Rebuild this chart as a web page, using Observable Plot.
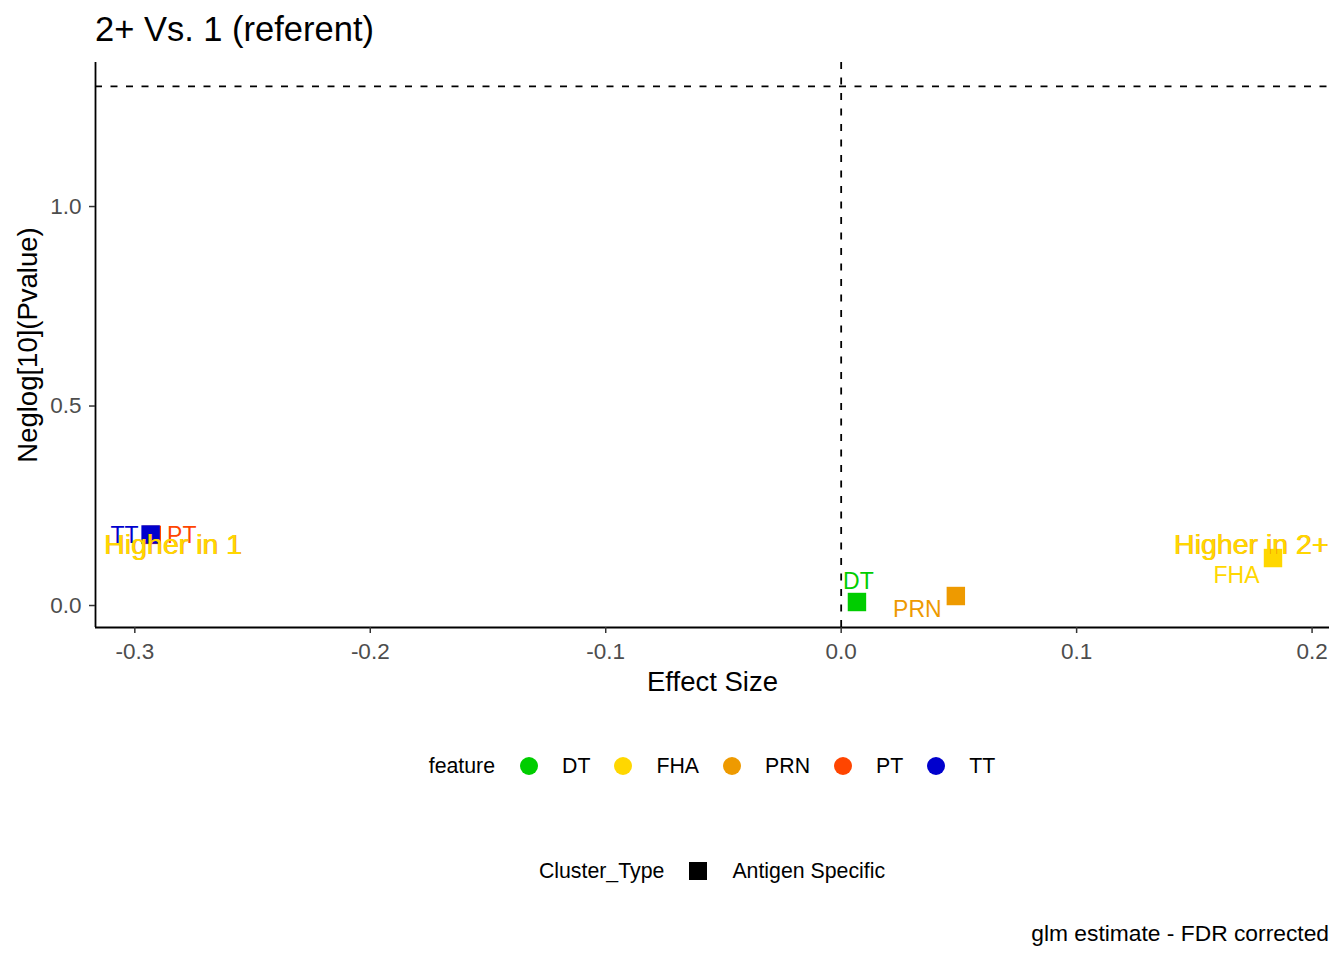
<!DOCTYPE html>
<html>
<head>
<meta charset="utf-8">
<script src="https://cdn.jsdelivr.net/npm/d3@7"></script>
<script src="https://cdn.jsdelivr.net/npm/@observablehq/plot@0.6"></script>
<style>
  html, body { margin: 0; padding: 0; background: #fff; }
  body { font-family: "Liberation Sans", Arial, sans-serif; width: 1344px; height: 960px; overflow: hidden; }
  #title { box-sizing: border-box; height: 50px; padding: 9px 0 0 95px; font-size: 34.5px; line-height: 41px; color: #000; white-space: nowrap; }
  .legend { box-sizing: border-box; display: flex; align-items: center; justify-content: center; padding: 0 15px 0 95px; font-size: 21.3px; color: #000; white-space: nowrap; }
  #legend1 { height: 112px; }
  #legend2 { height: 98px; }
  .key-dot { width: 18px; height: 18px; border-radius: 50%; display: inline-block; }
  .key-sq { width: 18px; height: 18px; background: #000; display: inline-block; }
  #caption { box-sizing: border-box; height: 26px; line-height: 26px; font-size: 22.8px; text-align: right; padding-right: 15px; color: #000; white-space: nowrap; }
</style>
</head>
<body>
<div id="title"></div>
<div id="chart"></div>
<div id="legend1" class="legend"></div>
<div id="legend2" class="legend"></div>
<div id="caption"></div>
<script>
// ---- data ----
const titleText = "2+ Vs. 1 (referent)";
const features = ["DT", "FHA", "PRN", "PT", "TT"];
const effectSize = [0.0067, 0.1834, 0.0487, -0.2928, -0.2933];
const negLogP = [0.0088, 0.119, 0.0238, 0.177, 0.178];
const featureColors = ["#00CD00", "#FFD700", "#EE9A00", "#FF4500", "#0000CD"];
const clusterTypes = ["Antigen Specific"];
const xTicks = [-0.3, -0.2, -0.1, 0.0, 0.1, 0.2];
const yTicks = [0.0, 0.5, 1.0];
const xDomain = [-0.3167, 0.2074];
const yDomain = [-0.0551, 1.361];
const pThreshold = 0.05;
const annotationText = ["Higher in 1", "Higher in 2+"];
const annotationX = [-0.2839, 0.174];
const annotationY = [0.152, 0.152];
const xLabel = "Effect Size";
const yLabel = "Neglog[10](Pvalue)";
const captionText = "glm estimate - FDR corrected";

// ---- build ----
const rows = features.map((f, i) => ({feature: f, x: effectSize[i], y: negLogP[i]}));
const notes = annotationText.map((t, i) => ({text: t, x: annotationX[i], y: annotationY[i]}));
const font = "'Liberation Sans', Arial, sans-serif";

// label offsets (repelled text placement), px
const repel = {TT: [-26, 1], PT: [30, 1], DT: [1.5, -20], PRN: [-38.5, 14], FHA: [-36.5, 18]};

document.getElementById("title").textContent = titleText;

const plot = Plot.plot({
  width: 1344,
  height: 660,
  marginTop: 12,
  marginBottom: 83,
  marginLeft: 95,
  marginRight: 15,
  style: {fontFamily: font, background: "#fff", overflow: "visible"},
  x: {domain: xDomain},
  y: {domain: yDomain},
  color: {type: "ordinal", domain: features, range: featureColors},
  marks: [
    Plot.ruleY([-Math.log10(pThreshold)], {stroke: "#000", strokeWidth: 1.8, strokeDasharray: "7,8.5"}),
    Plot.ruleX([0], {stroke: "#000", strokeWidth: 1.8, strokeDasharray: "7,8.5"}),
    Plot.ruleY([yDomain[0]], {stroke: "#000", strokeWidth: 1.8}),
    Plot.ruleX([xDomain[0]], {stroke: "#000", strokeWidth: 1.8}),
    Plot.axisX({ticks: xTicks, tickFormat: d => d.toFixed(1), tickSize: 6, tickPadding: 10,
      fontSize: 22.5, stroke: "#333333", fill: "#4D4D4D", strokeWidth: 1.5, label: null}),
    Plot.axisY({ticks: yTicks, tickFormat: d => d.toFixed(1), tickSize: 6, tickPadding: 8,
      fontSize: 22.5, stroke: "#333333", fill: "#4D4D4D", strokeWidth: 1.5, label: null}),
    Plot.text([xLabel], {frameAnchor: "bottom", lineAnchor: "middle", textAnchor: "middle", dy: 55, fontSize: 27.5, fill: "#000", text: d => d}),
    Plot.text([yLabel], {frameAnchor: "left", lineAnchor: "middle", textAnchor: "middle", dx: -67, rotate: -90, fontSize: 27.5, fill: "#000", text: d => d}),
    Plot.dot(rows, {x: "x", y: "y", fill: "feature", symbol: "square", r: 10.4, stroke: "none"}),
    ...features.map(f => Plot.text(rows.filter(r => r.feature === f), {
      x: "x", y: "y", text: "feature", fill: "feature", fontSize: 23,
      dx: repel[f][0], dy: repel[f][1]
    })),
    Plot.text(notes, {x: "x", y: "y", text: "text", fill: "#EE9A00", fontSize: 28.5, dx: 0.7, dy: 0.4}),
    Plot.text(notes, {x: "x", y: "y", text: "text", fill: "#FFD700", fontSize: 28.5})
  ]
});
document.getElementById("chart").appendChild(plot);

// legends
const lg1 = document.getElementById("legend1");
const t1 = document.createElement("span");
t1.textContent = "feature";
t1.style.marginRight = "25px";
lg1.appendChild(t1);
features.forEach((f, i) => {
  const d = document.createElement("span");
  d.className = "key-dot";
  d.style.background = featureColors[i];
  d.style.marginRight = "24px";
  lg1.appendChild(d);
  const s = document.createElement("span");
  s.textContent = f;
  if (i < features.length - 1) s.style.marginRight = "24px";
  lg1.appendChild(s);
});

const lg2 = document.getElementById("legend2");
const t2 = document.createElement("span");
t2.textContent = "Cluster_Type";
t2.style.marginRight = "25px";
lg2.appendChild(t2);
clusterTypes.forEach((c, i) => {
  const d = document.createElement("span");
  d.className = "key-sq";
  d.style.marginRight = "25px";
  lg2.appendChild(d);
  const s = document.createElement("span");
  s.textContent = c;
  lg2.appendChild(s);
});

document.getElementById("caption").textContent = captionText;
</script>
</body>
</html>
